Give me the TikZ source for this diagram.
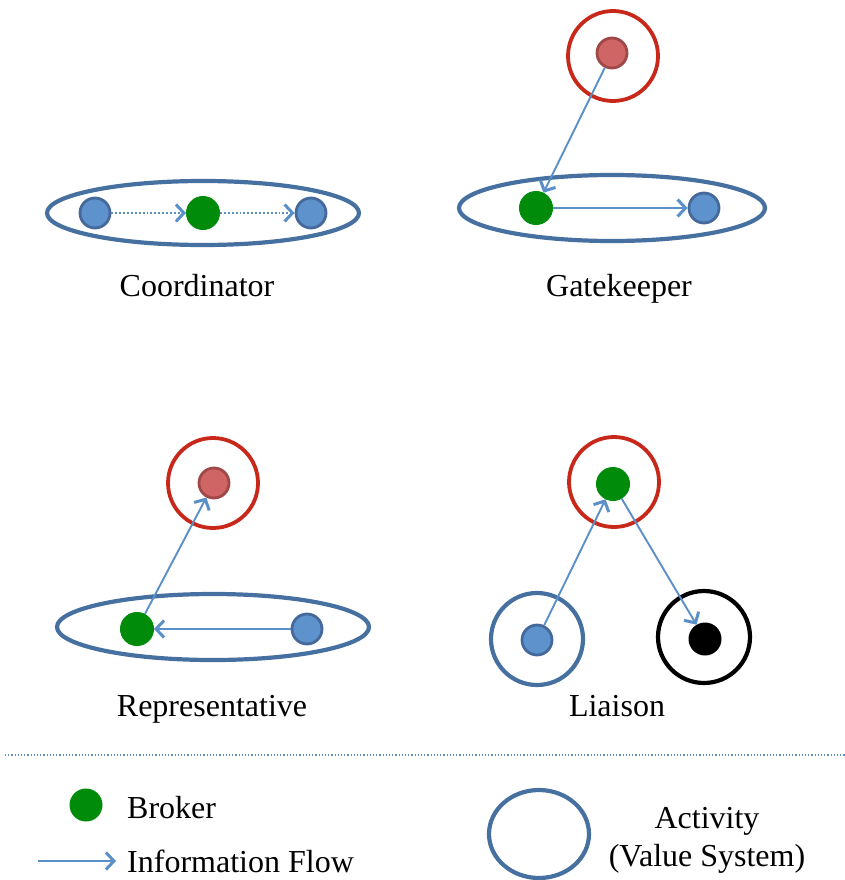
\documentclass[tikz,border=0pt]{standalone}
\usepackage{fontspec}
\setmainfont{Liberation Serif}
\usetikzlibrary{arrows.meta}
\definecolor{actblue}{HTML}{46709F}
\definecolor{actred}{HTML}{C8281A}
\definecolor{dotblue}{HTML}{5E92CC}
\definecolor{dotblueb}{HTML}{44699A}
\definecolor{dotred}{HTML}{D06565}
\definecolor{dotredb}{HTML}{A04848}
\definecolor{brokgreen}{HTML}{008C0A}
\definecolor{flowblue}{HTML}{5B8FC8}
\tikzset{
  actell/.style={draw=actblue, line width=4.2pt},
  actredc/.style={draw=actred, line width=3.8pt},
  actblack/.style={draw=black, line width=4.2pt},
  bluedot/.style={circle, fill=dotblue, draw=dotblueb, line width=2.8pt, minimum size=30pt, inner sep=0pt},
  reddot/.style={circle, fill=dotred, draw=dotredb, line width=2.8pt, minimum size=30pt, inner sep=0pt},
  greendot/.style={circle, fill=brokgreen, draw=brokgreen, line width=1pt, minimum size=33pt, inner sep=0pt},
  blackdot/.style={circle, fill=black, minimum size=33pt, inner sep=0pt},
  flow/.style={draw=flowblue, line width=1.9pt, -{Straight Barb[length=8pt,width=17pt,line width=3pt]}},
  dflow/.style={flow, dotted},
  lbl/.style={font=\fontsize{32}{36}\selectfont, inner sep=0pt, anchor=base},
}
\begin{document}
\begin{tikzpicture}[x=1pt,y=-1pt]
\useasboundingbox (0,0) rectangle (845,880);
% Coordinator
\draw[actell] (203,213) ellipse [x radius=156, y radius=32];
\node[bluedot] (c1) at (95,213) {};
\node[greendot] (c2) at (203,213) {};
\node[bluedot] (c3) at (311,213) {};
\draw[dflow] (c1) -- (c2);
\draw[dflow] (c2) -- (c3);
\node[lbl] (lc) at (197,296) {Coordinator};
% Gatekeeper
\draw[actredc] (613,56) circle [radius=45];
\draw[actell] (612,208) ellipse [x radius=153, y radius=33];
\node[reddot] (g0) at (612,53) {};
\node[greendot] (g1) at (536,208) {};
\node[bluedot] (g2) at (704,208) {};
\draw[flow] (g0) -- (g1);
\draw[flow] (g1) -- (g2);
\node[lbl] (lg) at (619,296) {Gatekeeper};
% Representative
\draw[actredc] (213,483) circle [radius=45];
\draw[actell] (213,627) ellipse [x radius=156, y radius=33];
\node[reddot] (r0) at (214,483) {};
\node[greendot] (r1) at (137,629) {};
\node[bluedot] (r2) at (307,629) {};
\draw[flow] (r2) -- (r1);
\draw[flow] (r1) -- (r0);
\node[lbl] (lr) at (212,716) {Representative};
% Liaison
\draw[actredc] (614,482) circle [radius=45];
\draw[actell] (537,639) circle [radius=46];
\draw[actblack] (704,637) circle [radius=46];
\node[greendot] (l0) at (613,484) {};
\node[bluedot] (l1) at (537,640) {};
\node[blackdot] (l2) at (705,639) {};
\draw[flow] (l1) -- (l0);
\draw[flow] (l0) -- (l2);
\node[lbl] (ll) at (617,716) {Liaison};
% separator
\coordinate (s1) at (5,755);
\coordinate (s2) at (845,755);
\draw[flowblue, line width=1.2pt, dotted] (s1) -- (s2);
% legend
\node[circle, fill=brokgreen, minimum width=32pt, minimum height=33pt, inner sep=0pt] (kb) at (86,805) {};
\node[lbl, anchor=base west] (kbt) at (127,818) {Broker};
\coordinate (ka1) at (38,861);
\coordinate (ka2) at (116,861);
\draw[flow] (ka1) -- (ka2);
\node[lbl, anchor=base west] (kat) at (127,872) {Information Flow};
\draw[actell] (539,834) ellipse [x radius=50, y radius=44];
\node[lbl] (kv1) at (707,828) {Activity};
\node[lbl] (kv2) at (707,866) {(Value System)};
\end{tikzpicture}
\end{document}
